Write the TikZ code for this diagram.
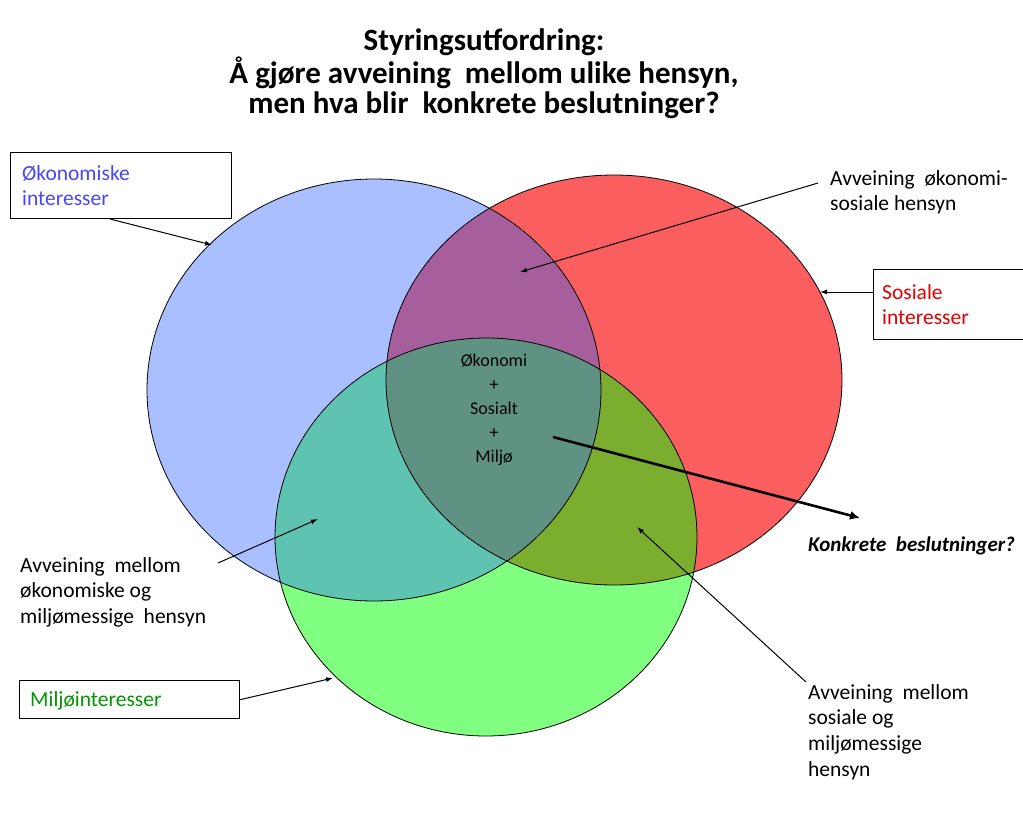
\documentclass[tikz,border=0pt]{standalone}
\usepackage{fontspec}
\setmainfont{Carlito}
\usetikzlibrary{arrows.meta}
\definecolor{cblue}{RGB}{170,191,255}
\definecolor{cred}{RGB}{250,94,94}
\definecolor{cgreen}{RGB}{128,255,128}
\definecolor{cbr}{RGB}{166,95,156}
\definecolor{cbg}{RGB}{94,195,176}
\definecolor{crg}{RGB}{123,173,46}
\definecolor{call}{RGB}{95,146,130}
\definecolor{tblue}{RGB}{70,70,255}
\definecolor{tred}{RGB}{225,0,0}
\definecolor{tgreen}{RGB}{0,150,0}
\begin{document}
\begin{tikzpicture}[x=1pt,y=-1pt,
  lbl/.style={font=\fontsize{21.5}{25.8}\selectfont, align=left, inner sep=0pt, anchor=north west},
  boxn/.style={draw=black, line width=1.3pt, inner sep=0pt, anchor=north west},
  pointer/.style={draw=black, line width=1pt, -{Latex[length=7pt,width=5pt]}},
  bigpointer/.style={draw=black, line width=2.6pt, -{Latex[length=10pt,width=9pt]}},
  edge/.style={draw=black, line width=0.8pt}]
\useasboundingbox (0,0) rectangle (1023,814);
\def\blueE{(374,390) ellipse [x radius=227pt, y radius=211pt]}
\def\redE{(614,380) ellipse [x radius=228pt, y radius=205pt]}
\def\greenE{(486,537) ellipse [x radius=211pt, y radius=199pt]}
% fills
\fill[cblue] \blueE;
\fill[cred] \redE;
\fill[cgreen] \greenE;
\begin{scope}\clip \blueE; \fill[cbr] \redE; \end{scope}
\begin{scope}\clip \blueE; \fill[cbg] \greenE; \end{scope}
\begin{scope}\clip \redE; \fill[crg] \greenE; \end{scope}
\begin{scope}\clip \blueE; \clip \redE; \fill[call] \greenE; \end{scope}
\draw[edge] \blueE;
\draw[edge] \redE;
\draw[edge] \greenE;
% title
\node[font=\fontsize{31}{30}\selectfont\bfseries, align=center, inner sep=0pt] (title) at (484,74)
  {Styringsutfordring:\\ Å gjøre avveining\ \ mellom ulike hensyn,\\ men hva blir\ \ konkrete beslutninger?};
% boxes
\node[boxn, minimum width=221pt, minimum height=66pt] (okbox) at (10,152) {};
\node[lbl, text=tblue] (oktxt) at (22,165) {Økonomiske\\interesser};
\node[boxn, minimum width=170pt, minimum height=70pt] (sobox) at (873,269) {};
\node[lbl, text=tred] (sotxt) at (882,284) {Sosiale\\interesser};
\node[boxn, minimum width=220pt, minimum height=38pt] (mibox) at (19,680) {};
\node[lbl, text=tgreen] (mitxt) at (30,691) {Miljøinteresser};
% labels
\node[lbl] (ostxt) at (830,170) {Avveining\ \ økonomi-\\sosiale hensyn};
\node[lbl] (omtxt) at (20,557) {Avveining\ \ mellom\\økonomiske og\\miljømessige\ \ hensyn};
\node[lbl] (smtxt) at (808,684) {Avveining\ \ mellom\\sosiale og\\miljømessige\\hensyn};
\node[font=\fontsize{18}{24}\selectfont, align=center, inner sep=0pt] (center) at (494,410)
  {Økonomi\\+\\Sosialt\\+\\Miljø};
\node[font=\fontsize{21}{24}\selectfont\bfseries\itshape, inner sep=0pt, anchor=west] (konk) at (808,546) {Konkrete\ \ beslutninger?};
% arrow end points
\coordinate (okS) at (110,219);
\coordinate (okE) at (212,245);
\coordinate (osS) at (818,183);
\coordinate (osE) at (520,272);
\coordinate (soE) at (820,292);
\coordinate (ctS) at (553,437);
\coordinate (ctE) at (860,518);
\coordinate (omS) at (218,563);
\coordinate (omE) at (318,519);
\coordinate (miE) at (333,678);
\coordinate (smS) at (806,682);
\coordinate (smE) at (637,527);
\draw[pointer] (okS) -- (okE);
\draw[pointer] (osS) -- (osE);
\draw[pointer] (sobox.west |- soE) -- (soE);
\draw[bigpointer] (ctS) -- (ctE);
\draw[pointer] (omS) -- (omE);
\draw[pointer] (mibox.east) -- (miE);
\draw[pointer] (smS) -- (smE);
\end{tikzpicture}
\end{document}
